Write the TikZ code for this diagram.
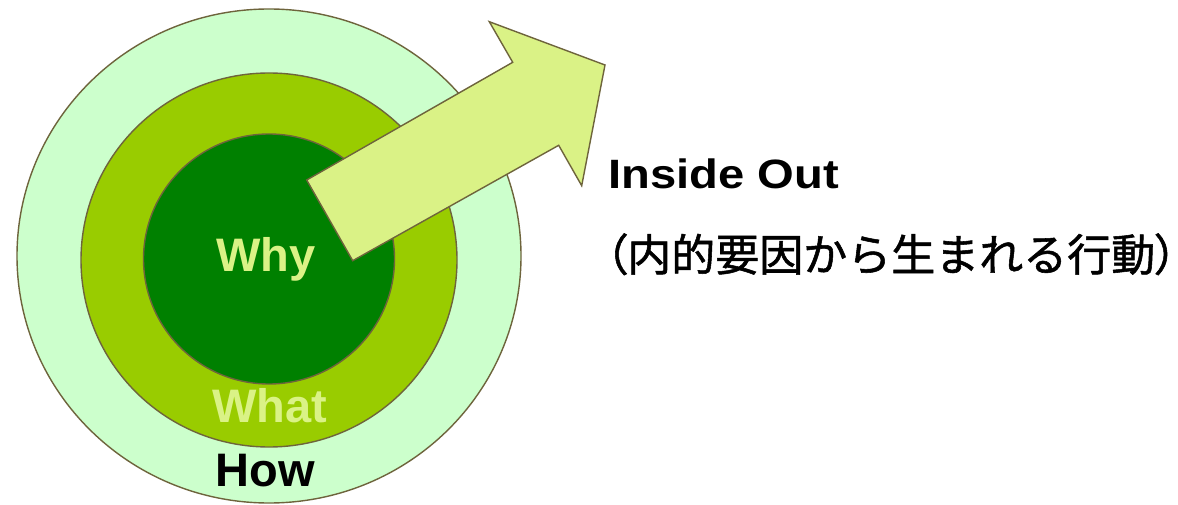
\documentclass[tikz,border=0pt]{standalone}
\usepackage{fontspec}
\setmainfont{Liberation Sans}
\newfontfamily\cjk[FakeBold=1.2]{Noto Sans CJK JP}
\newfontfamily\cjkp[RawFeature=+palt,FakeBold=1.2]{Noto Sans CJK JP}
\definecolor{ringout}{HTML}{CCFFCC}
\definecolor{ringmid}{HTML}{99CC00}
\definecolor{ringin}{HTML}{008000}
\definecolor{arrowfill}{HTML}{DAF286}
\definecolor{edge}{RGB}{110,100,60}
\definecolor{lightword}{HTML}{DAF286}
\tikzset{
  ring/.style={draw=edge, line width=1.4pt},
  word/.style={inner sep=0pt, anchor=base, font=\bfseries\fontsize{47}{50}\selectfont},
}
\begin{document}
\begin{tikzpicture}[x=1pt,y=-1pt]
\useasboundingbox (0,0) rectangle (1178,505);
\clip (0,0) rectangle (1178,505);
\fill[white] (0,0) rectangle (1178,505);
\draw[ring, fill=ringout] (269,256) ellipse [x radius=252pt, y radius=247pt];
\draw[ring, fill=ringmid] (269,260) ellipse [x radius=188pt, y radius=187pt];
\draw[ring, fill=ringin] (269,259) ellipse [x radius=125.5pt, y radius=125pt];
\node[word, text=lightword] (why) at (266,272) {Why};
\node[word, text=lightword] (what) at (270,422) {What};
\node[word, text=black] (how) at (265,486.7) {How};
\draw[ring, fill=arrowfill, line join=miter]
  (306.7,180) -- (512.7,62.3) -- (489.3,21.7) -- (605,65) -- (581.7,185.7)
  -- (558.7,145.3) -- (352.7,260.7) -- cycle;
\node[inner sep=0pt, anchor=base west, xscale=1.15, font=\bfseries\fontsize{41}{44}\selectfont] (inside) at (608,189) {Inside Out};
\node[inner sep=0pt, anchor=base west, font=\fontsize{44}{48}\selectfont] (jp) at (605,271) {{\cjkp （}\cjk 内的要因から生まれる行動{\cjkp ）}};
\end{tikzpicture}
\end{document}
